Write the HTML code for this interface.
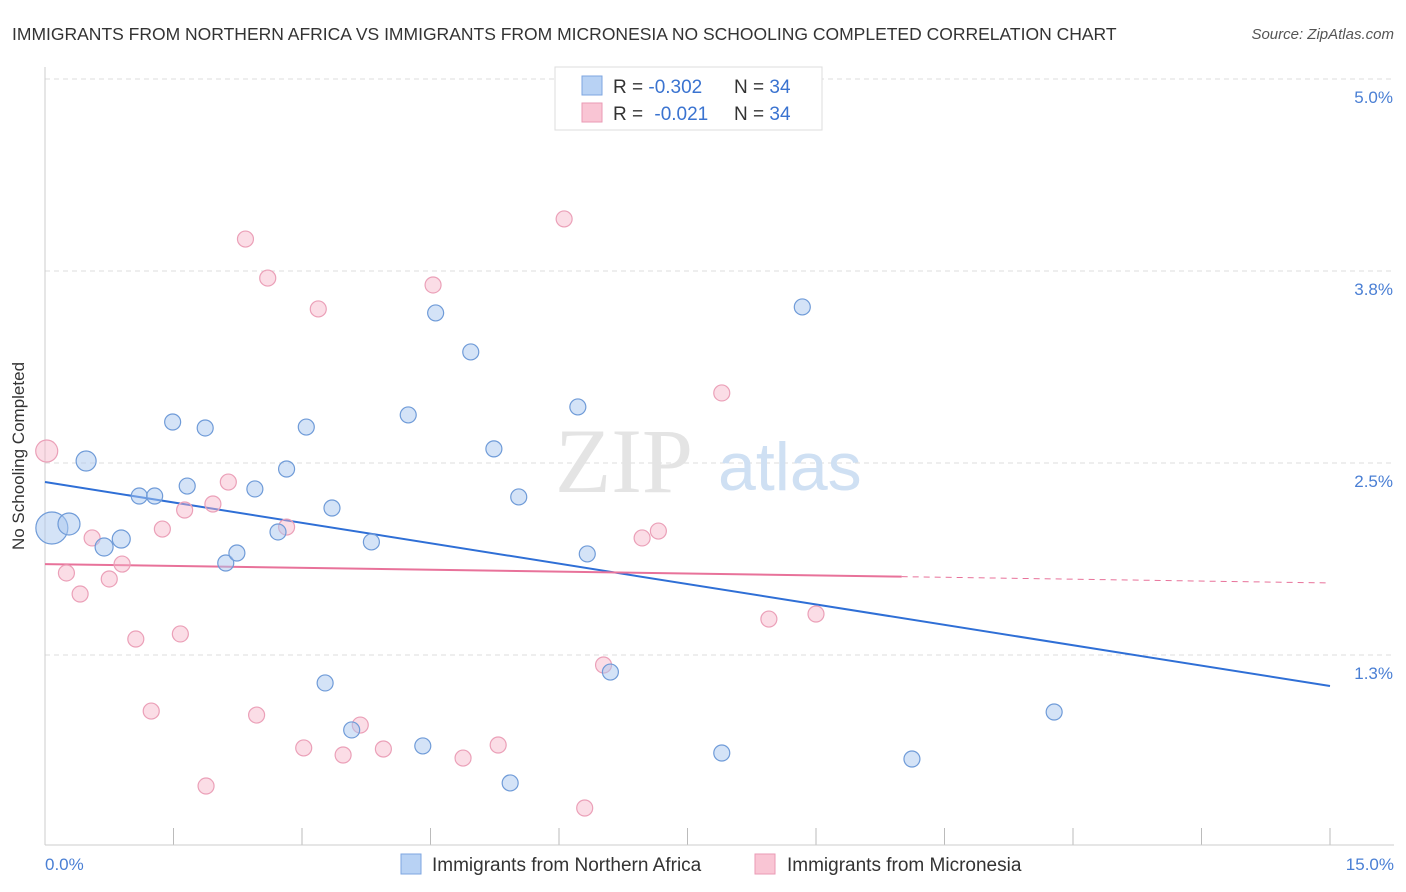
<!DOCTYPE html>
<html><head><meta charset="utf-8"><style>
body{margin:0;background:#fff;font-family:"Liberation Sans",sans-serif;}
svg{display:block}
</style></head><body>
<svg id="chart" width="1406" height="892">
<text x="12" y="40" font-size="17.5" fill="#333">IMMIGRANTS FROM NORTHERN AFRICA VS IMMIGRANTS FROM MICRONESIA NO SCHOOLING COMPLETED CORRELATION CHART</text>
<text x="1394" y="39" font-size="15" fill="#555" font-style="italic" text-anchor="end">Source: ZipAtlas.com</text>
<g id="grid"></g>
<g><text x="555" y="492" font-size="92" font-family="Liberation Serif,serif" fill="#e4e4e4">ZIP</text><text x="718" y="490" font-size="68" fill="#cfe0f3">atlas</text></g>
<line x1="45" y1="67" x2="45" y2="845" stroke="#ccc"/>
<line x1="45" y1="845" x2="1394" y2="845" stroke="#ccc"/>
<text x="24" y="456" font-size="17" fill="#333" text-anchor="middle" transform="rotate(-90 24 456)">No Schooling Completed</text>
<text x="45" y="870" font-size="17" fill="#4a7fd4">0.0%</text>
<text x="1394" y="870" font-size="17" fill="#4a7fd4" text-anchor="end">15.0%</text>
<g id="trends"></g>
<g id="points"></g>
<g>
<rect x="555" y="67" width="267" height="63" fill="#fff" stroke="#ddd"/>
<rect x="582" y="76" width="20" height="19" fill="#b8d2f4" stroke="#7ea6e0"/>
<rect x="582" y="103" width="20" height="19" fill="#f9c5d4" stroke="#ea9ab4"/>
<text x="613" y="93" font-size="19" fill="#333">R = <tspan fill="#3a73d0">-0.302</tspan><tspan x="734">N = </tspan><tspan fill="#3a73d0">34</tspan></text>
<text x="613" y="120" font-size="19" fill="#333">R = <tspan fill="#3a73d0" dx="6">-0.021</tspan><tspan x="734">N = </tspan><tspan fill="#3a73d0">34</tspan></text>
</g>
<g>
<rect x="401" y="854" width="20" height="20" fill="#b8d2f4" stroke="#7ea6e0"/>
<text x="432" y="871" font-size="19" fill="#333">Immigrants from Northern Africa</text>
<rect x="755" y="854" width="20" height="20" fill="#f9c5d4" stroke="#ea9ab4"/>
<text x="787" y="871" font-size="19" fill="#333">Immigrants from Micronesia</text>
</g>
</svg>
<script>
const yTicks=[5.0,3.75,2.5,1.25];
const yTickLabels=["5.0%","3.8%","2.5%","1.3%"];
const xTicks=[0,1.5,3,4.5,6,7.5,9,10.5,12,13.5,15];
const blueX=[0.08,0.28,0.48,0.69,0.89,1.10,1.28,1.49,1.66,1.87,2.11,2.24,2.45,2.72,2.82,3.05,3.35,3.27,3.58,3.81,4.24,4.41,4.56,4.97,5.24,5.43,5.53,6.22,6.33,6.60,7.90,8.84,10.12,11.78];
const blueY=[2.077,2.103,2.513,1.953,2.005,2.285,2.285,2.767,2.350,2.728,1.849,1.914,2.331,2.051,2.461,2.734,2.207,1.068,0.762,1.986,2.813,0.658,3.477,3.223,2.592,0.417,2.279,2.865,1.908,1.139,0.612,3.516,0.573,0.879];
const blueR=[16,11,10,9,9,8,8,8,8,8,8,8,8,8,8,8,8,8,8,8,8,8,8,8,8,8,8,8,8,8,8,8,8,8];
const pinkX=[0.02,0.25,0.41,0.55,0.75,0.90,1.06,1.24,1.37,1.58,1.63,1.88,1.96,2.14,2.34,2.47,2.60,2.82,3.02,3.19,3.48,3.68,3.95,4.53,4.88,5.29,6.06,6.30,6.52,6.97,7.16,7.90,8.45,9.00];
const pinkY=[2.578,1.784,1.647,2.012,1.745,1.842,1.354,0.885,2.070,1.387,2.194,0.397,2.233,2.376,3.958,0.859,3.704,2.083,0.645,3.503,0.599,0.794,0.638,3.659,0.579,0.664,4.089,0.254,1.185,2.012,2.057,2.956,1.484,1.517];
const pinkR=[11,8,8,8,8,8,8,8,8,8,8,8,8,8,8,8,8,8,8,8,8,8,8,8,8,8,8,8,8,8,8,8,8,8];
const blueTrend=[2.376,1.048];
const pinkTrend=[1.842,1.719];
const pinkSolidEnd=10.0;
const NS="http://www.w3.org/2000/svg";
const xs=v=>45+v/15*1285;
const ys=v=>79+(5-v)*153.6;
function mk(tag,attrs,parent){const e=document.createElementNS(NS,tag);for(const k in attrs)e.setAttribute(k,attrs[k]);parent.appendChild(e);return e;}
const grid=document.getElementById('grid');
yTicks.forEach((t,i)=>{
 const l=mk('line',{x1:45,x2:1394,y1:ys(t),y2:ys(t),stroke:'#ddd','stroke-dasharray':'5,4'},grid);
 
 
 const tx=mk('text',{x:1393,y:ys(t)+24,'font-size':17,fill:'#4a7fd4','text-anchor':'end'},grid);
 tx.textContent=yTickLabels[i];
 
 
});
xTicks.forEach(t=>{
 const l=mk('line',{x1:xs(t),x2:xs(t),y1:828,y2:845,stroke:'#bbb'},grid);
 
 
});
const tr=document.getElementById('trends');
const lf=(a,x)=>a[0]+(a[1]-a[0])*x/15;
let b=mk('line',{x1:xs(0),y1:ys(blueTrend[0]),x2:xs(15),y2:ys(blueTrend[1]),stroke:'#2f6fd6','stroke-width':2},tr);


let p=mk('line',{x1:xs(0),y1:ys(pinkTrend[0]),x2:xs(pinkSolidEnd),y2:ys(lf(pinkTrend,pinkSolidEnd)),stroke:'#e8729a','stroke-width':2},tr);


let pd=mk('line',{x1:xs(pinkSolidEnd),y1:ys(lf(pinkTrend,pinkSolidEnd)),x2:xs(15),y2:ys(pinkTrend[1]),stroke:'#e8729a','stroke-width':1,'stroke-dasharray':'6,5'},tr);


const pts=document.getElementById('points');
pinkX.forEach((x,i)=>{
 const c=mk('circle',{cx:xs(x),cy:ys(pinkY[i]),r:pinkR[i],fill:'rgba(246,180,200,0.45)',stroke:'#eba0b8','stroke-width':1.2},pts);
 
 
});
blueX.forEach((x,i)=>{
 const c=mk('circle',{cx:xs(x),cy:ys(blueY[i]),r:blueR[i],fill:'rgba(170,200,240,0.5)',stroke:'#6f9bd8','stroke-width':1.2},pts);
 
 
});
</script>
</body></html>
